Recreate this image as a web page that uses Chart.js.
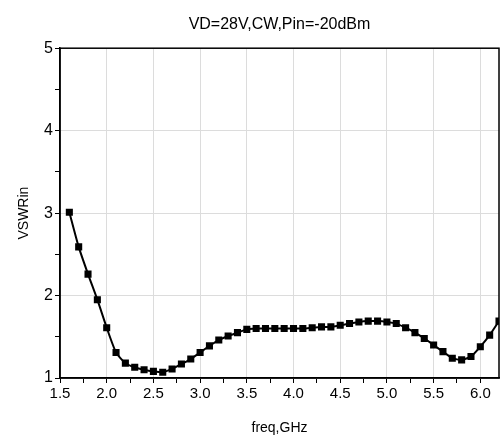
<!DOCTYPE html>
<html>
<head>
<meta charset="utf-8">
<script src="https://cdn.jsdelivr.net/npm/chart.js@4.4.1/dist/chart.umd.min.js"></script>
<style>
  html, body { margin: 0; padding: 0; background: #fff; }
  #wrap { width: 504px; height: 437px; }
</style>
</head>
<body>
<div id="wrap"><canvas id="vswrChart"></canvas></div>
<script>
// -----------------------------
// Data
// -----------------------------
const freqGHz = [
  1.6, 1.7, 1.8, 1.9, 2.0, 2.1, 2.2, 2.3, 2.4, 2.5,
  2.6, 2.7, 2.8, 2.9, 3.0, 3.1, 3.2, 3.3, 3.4, 3.5,
  3.6, 3.7, 3.8, 3.9, 4.0, 4.1, 4.2, 4.3, 4.4, 4.5,
  4.6, 4.7, 4.8, 4.9, 5.0, 5.1, 5.2, 5.3, 5.4, 5.5,
  5.6, 5.7, 5.8, 5.9, 6.0, 6.1, 6.2
];
const vswrIn = [
  3.01, 2.59, 2.26, 1.95, 1.61, 1.31, 1.18, 1.13, 1.10, 1.08,
  1.07, 1.11, 1.17, 1.23, 1.31, 1.39, 1.46, 1.51, 1.55, 1.59,
  1.60, 1.60, 1.60, 1.60, 1.60, 1.60, 1.61, 1.62, 1.62, 1.64,
  1.66, 1.68, 1.69, 1.69, 1.68, 1.66, 1.61, 1.55, 1.48, 1.40,
  1.32, 1.24, 1.22, 1.26, 1.38, 1.52, 1.69
];
const xTicks = [1.5, 1.75, 2.0, 2.25, 2.5, 2.75, 3.0, 3.25, 3.5, 3.75, 4.0, 4.25,
  4.5, 4.75, 5.0, 5.25, 5.5, 5.75, 6.0];
const yTicks = [1, 1.5, 2, 2.5, 3, 3.5, 4, 4.5, 5];

const FONT = "'Liberation Sans', Arial, sans-serif";
const GRID = "#dcdcdc";

// box round the plot area
const frame = {
  id: "frame",
  afterDraw(chart) {
    const { ctx, chartArea: a } = chart;
    ctx.save();
    ctx.strokeStyle = "#000";
    ctx.lineWidth = 1.5;
    ctx.strokeRect(a.left, a.top, a.right - a.left, a.bottom - a.top);
    ctx.restore();
  }
};

document.addEventListener("DOMContentLoaded", () => {
  const ctx = document.getElementById("vswrChart");

  new Chart(ctx, {
    type: "line",
    data: {
      datasets: [{
        data: freqGHz.map((f, i) => ({ x: f, y: vswrIn[i] })),
        borderColor: "#000",
        backgroundColor: "#000",
        borderWidth: 2,
        pointStyle: "rect",
        pointRadius: 5,
        pointBorderWidth: 0,
        tension: 0.2
      }]
    },
    options: {
      responsive: true,
      maintainAspectRatio: false,
      animation: false,
      layout: { padding: { left: 16, right: 1, top: 0, bottom: 0 } },
      plugins: {
        legend: { display: false },
        tooltip: { enabled: false },
        title: {
          display: true,
          fullSize: false,
          text: "VD=28V,CW,Pin=-20dBm",
          color: "#000",
          font: { family: FONT, size: 16, weight: "normal" },
          padding: { top: 15, bottom: 14 }
        }
      },
      scales: {
        x: {
          type: "linear",
          min: 1.5,
          max: 6.2,
          afterBuildTicks: s => { s.ticks = xTicks.map(v => ({ value: v })); },
          afterFit: s => { s.height = 59; },
          border: { color: "#000", width: 1.5 },
          grid: {
            color: c => (Math.abs(c.tick.value * 2 - Math.round(c.tick.value * 2)) < 1e-6 ? GRID : "rgba(0,0,0,0)"),
            tickColor: "#000",
            tickLength: 5
          },
          ticks: {
            autoSkip: false,
            maxRotation: 0,
            color: "#000",
            padding: 2,
            font: { family: FONT, size: 15 },
            callback: v => (Math.abs(v * 2 - Math.round(v * 2)) < 1e-6 ? v.toFixed(1) : "")
          },
          title: {
            display: true,
            text: "freq,GHz",
            color: "#000",
            font: { family: FONT, size: 14 },
            padding: { top: 11, bottom: 0 }
          }
        },
        y: {
          min: 1,
          max: 5,
          afterBuildTicks: s => { s.ticks = yTicks.map(v => ({ value: v })); },
          afterFit: s => { s.width = 44; },
          border: { color: "#000", width: 1.5 },
          grid: {
            color: c => (Number.isInteger(c.tick.value) ? GRID : "rgba(0,0,0,0)"),
            tickColor: "#000",
            tickLength: 5
          },
          ticks: {
            autoSkip: false,
            color: "#000",
            padding: 2,
            font: { family: FONT, size: 16 },
            callback: v => (Number.isInteger(v) ? String(v) : "")
          },
          title: {
            display: true,
            text: "VSWRin",
            color: "#000",
            font: { family: FONT, size: 14 },
            padding: { top: 0, bottom: 6 }
          }
        }
      }
    },
    plugins: [frame]
  });
});
</script>
</body>
</html>
